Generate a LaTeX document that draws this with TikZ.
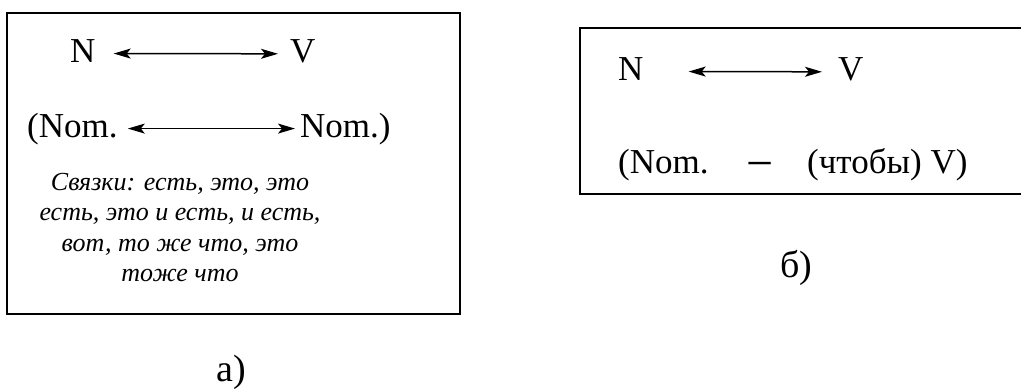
\documentclass[tikz,border=0pt]{standalone}
\usepackage{fontspec}
\setmainfont{Liberation Serif}
\usetikzlibrary{arrows.meta}
\begin{document}
\begin{tikzpicture}[x=1pt,y=-1pt,
  frame/.style={draw=black,line width=2pt},
  word/.style={inner sep=0pt,anchor=base west,font=\fontsize{35}{42}\selectfont},
  caption/.style={inner sep=0pt,anchor=base,font=\fontsize{38}{44}\selectfont},
  link/.style={<->,line width=1.5pt,>={Stealth[length=17pt,width=10pt,inset=4pt]}},
  note/.style={inner sep=0pt,anchor=north,align=center,
    font=\fontsize{26}{30.5}\selectfont\itshape}]
\useasboundingbox (0,0) rectangle (1021,389);

% left panel
\draw[frame] (7,13) rectangle (460,314);
\node[word] (aN) at (70,62) {N};
\node[word] (aV) at (290,62) {V};
\draw[link] ([xshift=18pt,yshift=-3pt]aN.east) -- ([xshift=-12pt,yshift=-3pt]aV.west);
\node[word] (aNom1) at (27,137) {(Nom.};
\node[word] (aNom2) at (300,137) {Nom.)};
\draw[link] ([xshift=10pt]aNom1.east) -- ([xshift=-5pt]aNom2.west);
\node[note] (aLinks) at (180,173) {Связки: есть, это, это\\есть, это и есть, и есть,\\вот, то же что, это\\тоже что};
\node[caption] (aCap) at (231,381) {а)};

% right panel (open on the right)
\draw[frame] (1030,28) -- (580,28) -- (580,194) -- (1030,194);
\node[word] (bN) at (618,80) {N};
\node[word] (bV) at (838,80) {V};
\draw[link] ([xshift=45pt,yshift=-3pt]bN.east) -- ([xshift=-16pt,yshift=-3pt]bV.west);
\node[word] (bNom) at (618,173) {(Nom.};
\node[word,font=\fontsize{48}{50}\selectfont] (bDash) at (746,179) {\char"2212};
\node[word] (bV2) at (807,173) {(чтобы) V)};
\node[caption] (bCap) at (796,277) {б)};
\end{tikzpicture}
\end{document}
